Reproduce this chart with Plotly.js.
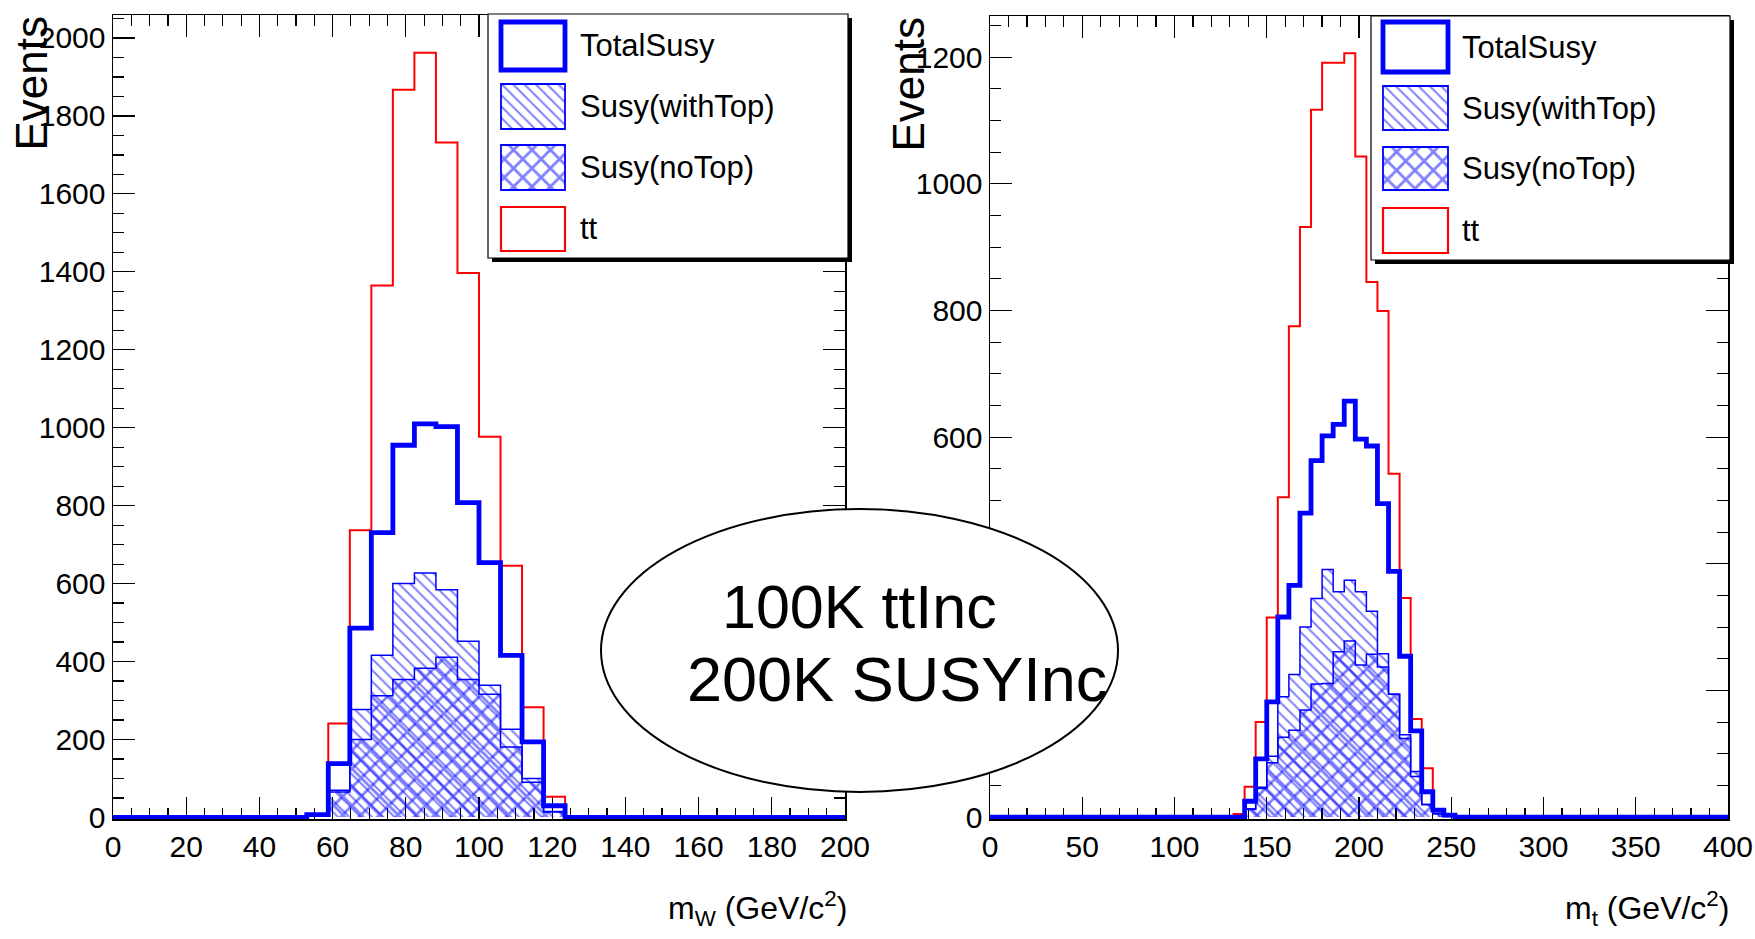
<!DOCTYPE html>
<html><head><meta charset="utf-8">
<script src="https://cdn.plot.ly/plotly-3.0.1.min.js"></script>
<style>html,body{margin:0;padding:0;background:#fff}#chart{width:1755px;height:939px}</style>
</head><body><div id="chart"></div>
<script>
// ---------- DATA ----------
// Left panel: m_W, bins of 200/34 GeV; listed bins start at low edge wBinStart
const wBinStart = 52.94;
const wBinWidth = 5.882;
const wAxisMax = 200;
const wTT      = [5, 241, 737, 1365, 1867, 1962, 1732, 1397, 977, 646, 283, 53];
const wTotal   = [7, 138, 486, 731, 955, 1010, 1003, 808, 654, 416, 194, 30];
const wWithTop = [3, 65, 277, 416, 600, 627, 584, 452, 339, 226, 100, 15];
const wNoTop   = [4, 70, 200, 312, 354, 383, 411, 354, 316, 181, 90, 14];

// Right panel: m_t, bins of 6 GeV; listed bins start at tBinStart
const tBinStart = 132;
const tBinWidth = 6;
const tAxisMax = 400;
const tTT      = [5, 48, 150, 315, 505, 775, 932, 1117, 1191, 1191, 1206, 1043, 845, 799, 542, 346, 155, 77, 10, 2];
const tTotal   = [0, 25, 92, 182, 316, 366, 480, 563, 602, 620, 657, 597, 586, 495, 388, 254, 136, 40, 11, 3];
const tWithTop = [0, 12, 45, 96, 190, 225, 300, 345, 391, 356, 374, 356, 325, 258, 194, 124, 64, 20, 5, 1];
const tNoTop   = [0, 13, 47, 86, 126, 137, 169, 210, 211, 261, 278, 240, 257, 237, 194, 130, 72, 20, 6, 2];

const legendLabels = ['TotalSusy', 'Susy(withTop)', 'Susy(noTop)', 'tt'];
const yTitle = 'Events';
const xTitleW = 'm<sub>W</sub> (GeV/c<sup>2</sup>)';
const xTitleT = 'm<sub>t</sub> (GeV/c<sup>2</sup>)';
const noteLines = ['100K ttInc', '200K SUSYInc'];

// ---------- HELPERS ----------
const W = 1755, H = 939;
const px = v => v / W;
const py = v => 1 - v / H;
const BLUE = '#0000ff', RED = '#ff0000', HATCH = '#0000ff';
const SANS = '"Liberation Sans", Arial, Helvetica, sans-serif';

function centers(start, w, vals) { return vals.map((_, i) => start + (i + 0.5) * w); }
function stepXY(start, w, vals, xmax) {
  const x = [0], y = [0];
  vals.forEach((v, i) => { x.push(start + i * w); y.push(v); });
  x.push(start + vals.length * w); y.push(0);
  x.push(xmax); y.push(0);
  return {x, y};
}
const patWith = {shape: '\\', fgcolor: HATCH, bgcolor: 'rgba(0,0,0,0)', size: 8, solidity: 0.24, fillmode: 'overlay'};
const patNo = {shape: 'x', fgcolor: HATCH, bgcolor: 'rgba(0,0,0,0)', size: 13, solidity: 0.38, fillmode: 'overlay'};

function panel(xa, ya, start, w, tt, tot, wt, nt, xmax) {
  const c = centers(start, w, tot);
  const tr = [];
  tr.push({type: 'bar', x: c, y: wt, width: w, xaxis: xa, yaxis: ya, showlegend: false, hoverinfo: 'skip',
    marker: {color: 'rgba(0,0,0,0)', line: {width: 0}, pattern: patWith}});
  tr.push({type: 'bar', x: c, y: nt, width: w, xaxis: xa, yaxis: ya, showlegend: false, hoverinfo: 'skip',
    marker: {color: 'rgba(0,0,0,0)', line: {width: 0}, pattern: patNo}});
  const sWT = stepXY(start, w, wt, xmax), sNT = stepXY(start, w, nt, xmax);
  const sTT = stepXY(start, w, tt, xmax), sTot = stepXY(start, w, tot, xmax);
  tr.push({type: 'scatter', mode: 'lines', x: sWT.x, y: sWT.y, xaxis: xa, yaxis: ya, showlegend: false, hoverinfo: 'skip',
    line: {shape: 'hv', color: BLUE, width: 1.5}});
  tr.push({type: 'scatter', mode: 'lines', x: sNT.x, y: sNT.y, xaxis: xa, yaxis: ya, showlegend: false, hoverinfo: 'skip',
    line: {shape: 'hv', color: BLUE, width: 1.5}});
  tr.push({type: 'scatter', mode: 'lines', x: sTT.x, y: sTT.y, xaxis: xa, yaxis: ya, showlegend: false, hoverinfo: 'skip',
    line: {shape: 'hv', color: RED, width: 2}});
  tr.push({type: 'scatter', mode: 'lines', x: sTot.x, y: sTot.y, xaxis: xa, yaxis: ya, showlegend: false, hoverinfo: 'skip',
    line: {shape: 'hv', color: BLUE, width: 4.8}});
  return tr;
}

// legend built on its own hidden axes (units = screen px)
function legend(xa, ya, box, sw, textX, rows) {
  const tr = [];
  const bar = (x0, x1, y0, y1, marker) => ({type: 'bar', x: [(x0 + x1) / 2], width: [x1 - x0], base: [y0], y: [y1 - y0],
    xaxis: xa, yaxis: ya, showlegend: false, hoverinfo: 'skip', marker});
  tr.push(bar(box[0] + 4, box[1] + 4, box[2] + 4, box[3] + 4, {color: '#000', line: {width: 0}}));
  tr.push(bar(box[0], box[1], box[2], box[3], {color: '#fff', line: {color: '#000', width: 1.2}}));
  tr.push(bar(sw[0], sw[1], rows[0][0], rows[0][1], {color: 'rgba(0,0,0,0)', line: {color: BLUE, width: 4.8}}));
  tr.push(bar(sw[0], sw[1], rows[1][0], rows[1][1], {color: 'rgba(0,0,0,0)', line: {color: BLUE, width: 1.8}, pattern: patWith}));
  tr.push(bar(sw[0], sw[1], rows[2][0], rows[2][1], {color: 'rgba(0,0,0,0)', line: {color: BLUE, width: 1.8}, pattern: patNo}));
  tr.push(bar(sw[0], sw[1], rows[3][0], rows[3][1], {color: 'rgba(0,0,0,0)', line: {color: RED, width: 2.2}}));
  const ann = legendLabels.map((t, i) => ({xref: xa, yref: ya, x: textX, y: (rows[i][0] + rows[i][1]) / 2,
    xanchor: 'left', yanchor: 'middle', text: t, showarrow: false, font: {family: SANS, size: 31, color: '#000'}}));
  return {tr, ann};
}

const traces = [];
traces.push(...panel('x', 'y', wBinStart, wBinWidth, wTT, wTotal, wWithTop, wNoTop, wAxisMax));
traces.push(...panel('x2', 'y2', tBinStart, tBinWidth, tTT, tTotal, tWithTop, tNoTop, tAxisMax));

const legL = legend('x3', 'y3', [488, 848, 14, 258], [501, 565], 578, [[22, 70], [84, 129], [145, 190], [207, 251]]);
const legR = legend('x4', 'y4', [1371, 1730, 16, 260], [1383, 1448], 1460, [[22, 72], [86, 130], [147, 190], [208, 253]]);
traces.push(...legL.tr, ...legR.tr);

const tickFont = {family: SANS, size: 30, color: '#000'};
function mainAxis(extra) {
  return Object.assign({
    showline: true, mirror: 'ticks', linecolor: '#000', linewidth: 1.5,
    ticks: 'inside', ticklen: 22, tickwidth: 1.2, tickcolor: '#000',
    showgrid: false, zeroline: false, tickfont: tickFont, layer: 'below traces', fixedrange: true,
    ticklabeloverflow: 'allow'
  }, extra);
}
const hidden = (dom, rng, anchor) => ({domain: dom, range: rng, visible: false, showgrid: false, zeroline: false, anchor, fixedrange: true});

const layout = {
  width: W, height: H, margin: {l: 0, r: 0, t: 0, b: 0},
  paper_bgcolor: '#fff', plot_bgcolor: 'rgba(0,0,0,0)',
  barmode: 'overlay', bargap: 0, showlegend: false,
  xaxis: mainAxis({domain: [px(113), px(845)], range: [0, wAxisMax], anchor: 'y', tick0: 0, dtick: 20,
    minor: {ticks: 'inside', ticklen: 11, tickwidth: 1.2, tickcolor: '#000', dtick: 5}}),
  yaxis: mainAxis({domain: [py(819), py(15)], range: [-4, 2059], anchor: 'x', tick0: 0, dtick: 200,
    minor: {ticks: 'inside', ticklen: 11, tickwidth: 1.2, tickcolor: '#000', dtick: 50}}),
  xaxis2: mainAxis({domain: [px(990), px(1728)], range: [0, tAxisMax], anchor: 'y2', tick0: 0, dtick: 50,
    minor: {ticks: 'inside', ticklen: 11, tickwidth: 1.2, tickcolor: '#000', dtick: 10}}),
  yaxis2: mainAxis({domain: [py(819), py(16)], range: [-3, 1265], anchor: 'x2', tick0: 0, dtick: 200,
    minor: {ticks: 'inside', ticklen: 11, tickwidth: 1.2, tickcolor: '#000', dtick: 50}}),
  xaxis3: hidden([px(486), px(856)], [486, 856], 'y3'),
  yaxis3: hidden([py(268), py(12)], [268, 12], 'x3'),
  xaxis4: hidden([px(1369), px(1738)], [1369, 1738], 'y4'),
  yaxis4: hidden([py(270), py(14)], [270, 14], 'x4'),
  shapes: [
    {type: 'circle', xref: 'paper', yref: 'paper', x0: px(601), x1: px(1118), y0: py(792), y1: py(509),
     line: {color: '#000', width: 2}, fillcolor: '#fff', layer: 'above'}
  ],
  annotations: [
    ...legL.ann, ...legR.ann,
    {xref: 'paper', yref: 'paper', x: px(31), y: py(14), xanchor: 'center', yanchor: 'top', textangle: -90,
     text: yTitle, showarrow: false, font: {family: SANS, size: 44, color: '#000'}},
    {xref: 'paper', yref: 'paper', x: px(908), y: py(15), xanchor: 'center', yanchor: 'top', textangle: -90,
     text: yTitle, showarrow: false, font: {family: SANS, size: 44, color: '#000'}},
    {xref: 'paper', yref: 'paper', x: px(849), y: py(908), xanchor: 'right', yanchor: 'middle',
     text: xTitleW, showarrow: false, font: {family: SANS, size: 32, color: '#000'}},
    {xref: 'paper', yref: 'paper', x: px(1731), y: py(908), xanchor: 'right', yanchor: 'middle',
     text: xTitleT, showarrow: false, font: {family: SANS, size: 32, color: '#000'}},
    {xref: 'paper', yref: 'paper', x: px(859), y: py(607), xanchor: 'center', yanchor: 'middle',
     text: noteLines[0], showarrow: false, font: {family: SANS, size: 61, color: '#000'}},
    {xref: 'paper', yref: 'paper', x: px(897), y: py(679), xanchor: 'center', yanchor: 'middle',
     text: noteLines[1], showarrow: false, font: {family: SANS, size: 63, color: '#000'}}
  ]
};

Plotly.newPlot('chart', traces, layout, {displayModeBar: false, staticPlot: true});
</script></body></html>
